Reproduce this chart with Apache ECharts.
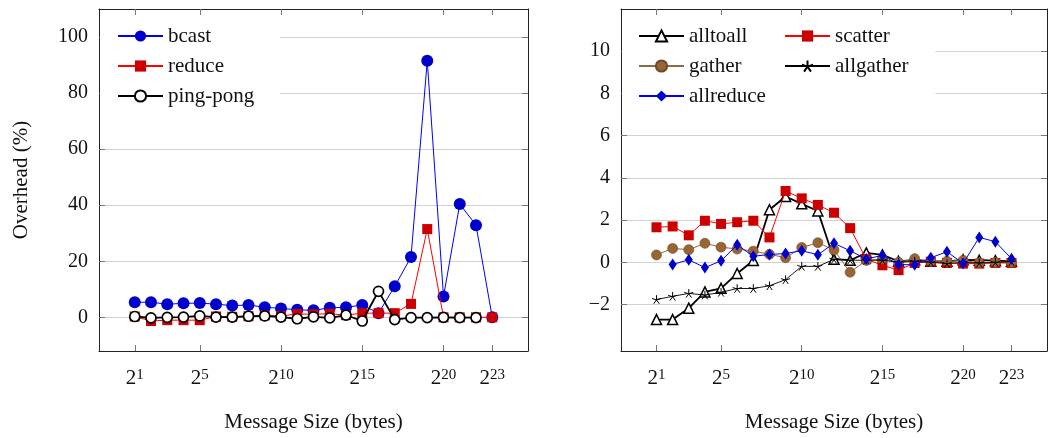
<!DOCTYPE html>
<html>
<head>
<meta charset="utf-8">
<title>Overhead</title>
<script src="https://cdn.jsdelivr.net/npm/echarts@6/dist/echarts.min.js"></script>
<style>
  html, body { margin: 0; padding: 0; background: #fff; }
  #chart { width: 1048px; height: 438px; }
</style>
</head>
<body>
<div id="chart"></div>
<script>
// message size exponents (2^k bytes)
var exps = [1,2,3,4,5,6,7,8,9,10,11,12,13,14,15,16,17,18,19,20,21,22,23];
var xTicks = [1, 5, 10, 15, 20, 23];
var leftTicks = [0, 20, 40, 60, 80, 100];
var rightTicks = [-2, 0, 2, 4, 6, 8, 10];

// left panel
var bcast = [5.4, 5.4, 4.7, 5.0, 5.1, 4.7, 4.2, 4.4, 3.6, 3.2, 2.7, 2.5, 3.4, 3.6, 4.4, 1.5, 11.1, 21.5, 91.5, 7.4, 40.4, 32.9, 0];
var reduce = [0.3, -1.3, -1.0, -1.0, -1.0, 0.3, 0.2, 0.4, 0.7, 0.5, 1.2, 1.1, 1.3, 0.8, 1.5, 1.5, 1.5, 4.8, 31.5, 0, 0, 0, 0];
var pingpong = [0.3, -0.2, 0, 0.1, 0.5, 0.1, 0.1, 0.4, 0.5, 0.1, -0.5, 0.2, -0.2, 0.8, -1.3, 9.3, -0.8, -0.1, -0.1, 0, -0.1, -0.1];

// right panel
var alltoall = [-2.71, -2.71, -2.17, -1.40, -1.23, -0.53, 0.09, 2.49, 3.12, 2.77, 2.43, 0.15, 0.10, 0.45, 0.35, 0.05, 0.12, 0.05, 0.05, 0.12, 0.10, 0.08, 0.05];
var scatter = [1.66, 1.70, 1.28, 1.97, 1.82, 1.90, 1.97, 1.18, 3.38, 3.03, 2.72, 2.35, 1.62, 0.15, -0.14, -0.37, -0.03, 0.03, -0.03, -0.06, -0.06, -0.03, -0.03];
var gather = [0.35, 0.66, 0.60, 0.90, 0.72, 0.63, 0.53, 0.38, 0.22, 0.70, 0.93, 0.58, -0.47, 0.09, 0.15, 0.0, 0.17, 0.05, 0.05, 0.09, -0.03, 0.0, 0.0];
var allgather = [-1.76, -1.61, -1.47, -1.55, -1.42, -1.24, -1.24, -1.11, -0.82, -0.19, -0.19, 0.14, 0.10, 0.10, 0.10, 0.0, 0.05, 0.0, -0.06, 0.0, -0.03, 0.0, 0.03];
var allreduce = [-0.10, 0.12, -0.25, 0.07, 0.83, 0.29, 0.37, 0.42, 0.55, 0.36, 0.90, 0.55, 0.16, 0.33, -0.10, -0.12, 0.22, 0.50, -0.05, 1.18, 0.98, 0.17];

var FONT = '"Liberation Serif", "DejaVu Serif", serif';
var starPath = 'path://M0,-10L0,0M9.51,-3.09L0,0M5.88,8.09L0,0M-5.88,8.09L0,0M-9.51,-3.09L0,0';

function pairs(xs, ys) {
  var out = [];
  for (var i = 0; i < ys.length; i++) out.push([xs[i], ys[i]]);
  return out;
}

function xAxes(grid) {
  var bottom = {
    gridIndex: grid, type: 'value', position: 'bottom', min: -1.2, max: 25.2,
    name: 'Message Size (bytes)', nameLocation: 'middle', nameGap: 61,
    nameTextStyle: { fontFamily: FONT, fontSize: 21, color: '#111' },
    axisLine: { show: true, onZero: false, lineStyle: { color: '#222', width: 1 } },
    axisTick: { show: true, inside: true, length: 6, customValues: xTicks, lineStyle: { color: '#777' } },
    axisLabel: {
      customValues: xTicks, margin: 17, color: '#111',
      formatter: function (v) { return '{b|2}{e|' + v + '}'; },
      rich: {
        b: { fontFamily: FONT, fontSize: 21, lineHeight: 21, verticalAlign: 'bottom', color: '#111' },
        e: { fontFamily: FONT, fontSize: 15, lineHeight: 15, verticalAlign: 'top', color: '#111' }
      },
      lineHeight: 24
    },
    splitLine: { show: false }
  };
  var top = {
    gridIndex: grid, type: 'value', position: 'top', min: -1.2, max: 25.2,
    axisLine: { show: true, onZero: false, lineStyle: { color: '#222', width: 1 } },
    axisTick: { show: true, inside: true, length: 6, customValues: xTicks, lineStyle: { color: '#777' } },
    axisLabel: { show: false },
    splitLine: { show: false }
  };
  return [bottom, top];
}

function yAxes(grid, min, max, ticks, name) {
  var left = {
    gridIndex: grid, type: 'value', position: 'left', min: min, max: max,
    name: name, nameLocation: 'middle', nameGap: 67, nameRotate: 90,
    nameTextStyle: { fontFamily: FONT, fontSize: 21, color: '#111' },
    axisLine: { show: true, onZero: false, lineStyle: { color: '#222', width: 1 } },
    axisTick: { show: true, inside: true, length: 6, customValues: ticks, lineStyle: { color: '#777' } },
    axisLabel: {
      customValues: ticks, margin: 11, fontFamily: FONT, fontSize: 20, color: '#111',
      formatter: function (v) { return v < 0 ? '\u2212' + (-v) : String(v); }
    },
    splitLine: { show: true, lineStyle: { color: '#d2d2d2', width: 1 } }
  };
  var right = {
    gridIndex: grid, type: 'value', position: 'right', min: min, max: max,
    axisLine: { show: true, onZero: false, lineStyle: { color: '#222', width: 1 } },
    axisTick: { show: true, inside: true, length: 6, customValues: ticks, lineStyle: { color: '#777' } },
    axisLabel: { show: false },
    splitLine: { show: false }
  };
  return [left, right];
}

function line(name, xi, yi, xs, ys, o) {
  return {
    name: name, type: 'line', xAxisIndex: xi, yAxisIndex: yi,
    data: pairs(xs, ys), symbol: o.symbol, symbolSize: o.size, showSymbol: true,
    symbolKeepAspect: true, z: o.z,
    lineStyle: { color: o.line, width: o.lw },
    itemStyle: { color: o.fill, borderColor: o.border || o.fill, borderWidth: o.bw || 0 },
    emphasis: { disabled: true }
  };
}

var chart = echarts.init(document.getElementById('chart'));

var legendText = { fontFamily: FONT, fontSize: 21, color: '#111', lineHeight: 22 };

var option = {
  animation: false,
  backgroundColor: '#fff',
  grid: [
    { left: 99, top: 9, width: 429, height: 352 },
    { left: 621, top: 9, width: 426, height: 352 }
  ],
  xAxis: xAxes(0).concat(xAxes(1)),
  yAxis: yAxes(0, -12, 110, leftTicks, 'Overhead (%)').concat(yAxes(1, -4.2, 12, rightTicks, '')),
  legend: [
    {
      data: ['bcast', 'reduce', 'ping-pong'], orient: 'vertical', left: 100, top: 19,
      itemWidth: 45, itemHeight: 14, itemGap: 8, padding: [6, 26, 6, 17],
      backgroundColor: '#fff', textStyle: legendText
    },
    {
      data: ['alltoall', 'gather', 'allreduce'], orient: 'vertical', left: 622, top: 19,
      itemWidth: 45, itemHeight: 14, itemGap: 8, padding: [6, 20, 6, 16],
      backgroundColor: '#fff', textStyle: legendText
    },
    {
      data: ['scatter', 'allgather'], orient: 'vertical', left: 780, top: 19,
      itemWidth: 45, itemHeight: 14, itemGap: 8, padding: [6, 27, 36, 4],
      backgroundColor: '#fff', textStyle: legendText
    }
  ],
  series: [
    line('bcast', 0, 0, exps, bcast, { symbol: 'circle', size: 12, line: '#0000ff', lw: 1, fill: '#0000cc', z: 2 }),
    line('reduce', 0, 0, exps, reduce, { symbol: 'rect', size: 10, line: '#ff0000', lw: 1, fill: '#cc0000', z: 3 }),
    line('ping-pong', 0, 0, exps, pingpong, { symbol: 'circle', size: 10, line: '#000', lw: 1.8, fill: '#fff', border: '#000', bw: 1.7, z: 4 }),

    line('alltoall', 2, 2, exps, alltoall, { symbol: 'triangle', size: 10, line: '#000', lw: 1.8, fill: '#fff', border: '#000', bw: 1.5, z: 2 }),
    line('scatter', 2, 2, exps, scatter, { symbol: 'rect', size: 10, line: '#ff0000', lw: 1, fill: '#cc0000', z: 3 }),
    line('gather', 2, 2, exps, gather, { symbol: 'circle', size: 10, line: '#8d6a48', lw: 1, fill: '#996633', border: '#6b4a28', bw: 0.6, z: 4 }),
    line('allgather', 2, 2, exps, allgather, { symbol: starPath, size: 9, line: '#000', lw: 0.9, fill: '#000', border: '#000', bw: 1, z: 5 }),
    line('allreduce', 2, 2, exps.slice(1), allreduce, { symbol: 'diamond', size: [8, 12], line: '#0000ff', lw: 1, fill: '#0000cc', z: 6 })
  ]
};

chart.setOption(option);
window.onresize = function () { chart.resize(); };
</script>
</body>
</html>
